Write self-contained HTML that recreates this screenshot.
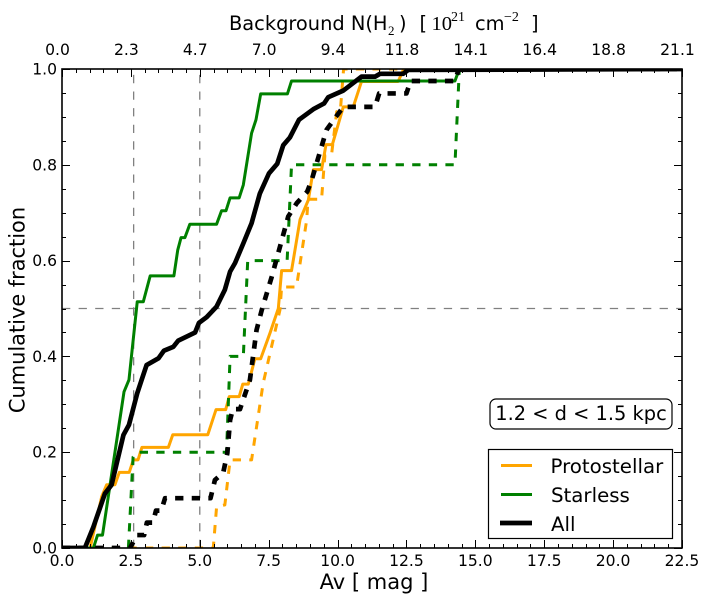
<!DOCTYPE html>
<html>
<head>
<meta charset="utf-8">
<title>Cumulative fraction chart</title>
<style>
html,body{margin:0;padding:0;background:#fff;width:710px;height:603px;overflow:hidden}
svg{display:block;font-family:"DejaVu Sans","Liberation Sans",sans-serif;fill:#000}
</style>
</head>
<body>
<svg id="chart" width="710" height="603" viewBox="0 0 710 603" xmlns="http://www.w3.org/2000/svg">
  <defs><clipPath id="plot-clip"><rect x="62" y="69" width="620" height="479"></rect></clipPath></defs>
  <rect x="62" y="69" width="620" height="479" fill="#fff"></rect>
  <g id="reference-lines" clip-path="url(#plot-clip)"></g>
  <g id="series-layer" clip-path="url(#plot-clip)"></g>
  <g id="tick-layer"></g>
  <rect x="62" y="69" width="620" height="479" fill="none" stroke="#000" stroke-width="1.6"></rect>
  <g id="label-layer" font-size="15.6"></g>
  <text x="374" y="589" font-size="21" text-anchor="middle">Av [ mag ]</text>
  <text transform="translate(24.5,310) rotate(-90)" font-size="20.9" text-anchor="middle">Cumulative fraction</text>
  <text y="30" font-size="19.4"><tspan x="229">Background N(H</tspan><tspan x="388" y="35" font-size="13" font-family="'Liberation Serif',serif">2</tspan><tspan x="399" y="30">)</tspan><tspan x="419.5" y="30">[</tspan><tspan x="431.5" y="30" font-size="20.5" font-family="'Liberation Serif',serif">10</tspan><tspan x="451" y="21" font-size="14" font-family="'Liberation Serif',serif">21</tspan><tspan x="475" y="30">cm</tspan><tspan x="504" y="21" font-size="14" font-family="'Liberation Serif',serif">−2</tspan><tspan x="531" y="30">]</tspan></text>
  <g>
    <rect x="490" y="399" width="182" height="30" rx="6" ry="6" fill="#fff" stroke="#000" stroke-width="1.2"></rect>
    <text x="581" y="420" font-size="19.4" text-anchor="middle">1.2 &lt; d &lt; 1.5 kpc</text>
  </g>
  <g>
    <rect x="488.5" y="449.5" width="184" height="89" fill="#fff" stroke="#000" stroke-width="1.2"></rect>
    <line x1="501" x2="532" y1="465.5" y2="465.5" stroke="#ffa500" stroke-width="3"></line>
    <text x="550.5" y="473" font-size="19.8">Protostellar</text>
    <line x1="501" x2="532" y1="494.5" y2="494.5" stroke="#008000" stroke-width="3"></line>
    <text x="551" y="502" font-size="19.8">Starless</text>
    <line x1="500" x2="532" y1="523" y2="523" stroke="#000" stroke-width="4.7"></line>
    <text x="551" y="531" font-size="19.8">All</text>
  </g>
</svg>
<script>
const avTicks = [0, 2.5, 5, 7.5, 10, 12.5, 15, 17.5, 20, 22.5];
const avTickLabels = ['0.0', '2.5', '5.0', '7.5', '10.0', '12.5', '15.0', '17.5', '20.0', '22.5'];
const nh2TickLabels = ['0.0', '2.3', '4.7', '7.0', '9.4', '11.8', '14.1', '16.4', '18.8', '21.1'];
const fracTicks = [0, 0.2, 0.4, 0.6, 0.8, 1];
const fracTickLabels = ['0.0', '0.2', '0.4', '0.6', '0.8', '1.0'];
const refAv = [2.6, 5];
const refFrac = [0.5];

const protoSolidAv = [0,1.02,1.44,1.62,1.92,2.08,2.44,2.59,2.76,2.9,3.86,4.02,5.29,5.59,5.94,6.07,6.43,6.56,6.76,7.0,7.21,7.55,7.85,7.97,8.33,8.64,8.94,9.12,9.42,9.58,9.81,10.21,10.57,10.87,12.2,12.4,22.5];
const protoSolidFrac = [0,0,0.107,0.132,0.132,0.158,0.158,0.184,0.184,0.21,0.21,0.2365,0.2365,0.289,0.289,0.316,0.316,0.342,0.342,0.395,0.395,0.449,0.5,0.579,0.579,0.686,0.7265,0.79,0.79,0.842,0.842,0.921,0.921,0.974,0.974,1,1];
const protoDashAv = [0,5.49,5.61,5.91,6.1,6.88,7.3,7.91,7.97,8.51,8.88,8.93,9.42,9.54,9.78,9.97,10.1,10.2,10.22,22.5];
const protoDashFrac = [0,0,0.086,0.09,0.184,0.184,0.344,0.497,0.545,0.545,0.685,0.728,0.728,0.82,0.82,0.911,0.911,0.987,1,1];

const starSolidAv = [0,1.14,1.29,1.47,2.25,2.43,2.73,2.95,3.2,4.06,4.2,4.32,4.46,4.64,5.61,5.79,5.95,6.1,6.43,6.58,6.88,7.04,7.21,8.18,8.33,14.26,14.42,22.5];
const starSolidFrac = [0,0,0.027,0.027,0.326,0.351,0.514,0.514,0.568,0.568,0.622,0.648,0.648,0.676,0.676,0.704,0.704,0.731,0.731,0.758,0.866,0.894,0.948,0.948,0.975,0.975,1,1];
const starDashAv = [0,2.41,2.58,2.77,5.97,6.1,6.58,6.74,8.17,8.33,14.26,14.42,22.5];
const starDashFrac = [0,0,0.19,0.2,0.2,0.4,0.4,0.6,0.6,0.8,0.8,1,1];

const allSolidAv = [0,0.83,1.14,1.56,1.8,2.23,2.43,2.73,2.89,3.07,3.5,3.7,4.04,4.22,4.83,4.97,5.25,5.61,5.91,6.1,6.28,6.58,6.88,7.18,7.51,7.81,8.03,8.27,8.6,9.12,9.51,9.66,10.21,10.87,11.36,11.54,12.38,12.56,22.5];
const allSolidFrac = [0,0,0.044,0.114,0.132,0.236,0.257,0.323,0.351,0.382,0.396,0.412,0.42,0.433,0.45,0.47,0.482,0.504,0.539,0.577,0.595,0.636,0.678,0.74,0.782,0.802,0.841,0.857,0.894,0.916,0.928,0.941,0.955,0.984,0.984,0.99,0.99,0.998,1];
const allDashAv = [0,2.47,2.72,2.98,3.08,3.3,3.41,3.6,3.74,5.39,5.55,5.85,6.0,6.1,6.2,6.46,6.82,7.06,7.25,7.61,7.91,8.21,8.52,8.9,9.06,9.6,9.9,10.21,11.36,11.51,12.5,12.65,14.26,14.4,22.5];
const allDashFrac = [0,0,0.027,0.027,0.053,0.053,0.078,0.078,0.104,0.104,0.142,0.157,0.198,0.267,0.29,0.29,0.351,0.455,0.497,0.566,0.629,0.692,0.72,0.744,0.768,0.873,0.897,0.921,0.921,0.949,0.949,0.975,0.975,1,1];

const plotLeft = 62, plotRight = 682, plotTop = 69, plotBottom = 548;
const avMax = 22.5;
const topLabelShift = -4.5;
function xPos(av) { return plotLeft + (av / avMax) * (plotRight - plotLeft); }
function yPos(f) { return plotBottom - f * (plotBottom - plotTop); }

const NS = 'http://www.w3.org/2000/svg';
const tickLayer = document.getElementById('tick-layer');
const labelLayer = document.getElementById('label-layer');
const refLayer = document.getElementById('reference-lines');
const seriesLayer = document.getElementById('series-layer');

function addTick(x1, y1, x2, y2) {
  const el = document.createElementNS(NS, 'line');
  
  
  el.setAttribute('x1', x1);
  el.setAttribute('y1', y1);
  el.setAttribute('x2', x2);
  el.setAttribute('y2', y2);
  el.setAttribute('stroke', '#000');
  el.setAttribute('stroke-width', '1');
  tickLayer.appendChild(el);
}
function addLabel(x, y, str, anchor) {
  const el = document.createElementNS(NS, 'text');
  
  
  el.setAttribute('x', x);
  el.setAttribute('y', y);
  el.setAttribute('text-anchor', anchor);
  el.textContent = str;
  labelLayer.appendChild(el);
}

const avStep = avTicks[1] - avTicks[0];
avTicks.forEach(function (t, i) {
  const x = Math.round(xPos(t)) + 0.5;
  addTick(x, plotBottom, x, plotBottom - 8);
  addTick(x, plotTop, x, plotTop + 8);
  addLabel(xPos(t), 566, avTickLabels[i], 'middle');
  addLabel(xPos(t) + topLabelShift, 55, nh2TickLabels[i], 'middle');
  if (i < avTicks.length - 1) {
    for (let k = 1; k < 5; k++) {
      const mx = Math.round(xPos(t + k * avStep / 5)) + 0.5;
      addTick(mx, plotBottom, mx, plotBottom - 4);
      addTick(mx, plotTop, mx, plotTop + 4);
    }
  }
});
const fracStep = fracTicks[1] - fracTicks[0];
fracTicks.forEach(function (t, i) {
  const y = Math.round(yPos(t)) + 0.5;
  addTick(plotLeft, y, plotLeft + 8, y);
  addTick(plotRight, y, plotRight - 8, y);
  addLabel(57, yPos(t) + 5.5, fracTickLabels[i], 'end');
  if (i < fracTicks.length - 1) {
    for (let k = 1; k < 4; k++) {
      const my = Math.round(yPos(t + k * fracStep / 4)) + 0.5;
      addTick(plotLeft, my, plotLeft + 4, my);
      addTick(plotRight, my, plotRight - 4, my);
    }
  }
});

refAv.forEach(function (a) {
  const el = document.createElementNS(NS, 'line');
  
  
  el.setAttribute('x1', xPos(a));
  el.setAttribute('x2', xPos(a));
  el.setAttribute('y1', plotBottom);
  el.setAttribute('y2', plotTop);
  el.setAttribute('stroke', '#808080');
  el.setAttribute('stroke-width', '1.3');
  el.setAttribute('stroke-dasharray', '8.3 8.3');
  refLayer.appendChild(el);
});
refFrac.forEach(function (f) {
  const el = document.createElementNS(NS, 'line');
  
  
  el.setAttribute('x1', plotLeft);
  el.setAttribute('x2', plotRight);
  el.setAttribute('y1', yPos(f));
  el.setAttribute('y2', yPos(f));
  el.setAttribute('stroke', '#808080');
  el.setAttribute('stroke-width', '1.3');
  el.setAttribute('stroke-dasharray', '8.3 8.3');
  refLayer.appendChild(el);
});

function pointsOf(xs, ys) {
  return xs.map(function (v, i) { return xPos(v).toFixed(2) + ',' + yPos(ys[i]).toFixed(2); }).join(' ');
}
function drawSeries(name, xs, ys, color, width, dash) {
  const el = document.createElementNS(NS, 'polyline');
  
  
  el.setAttribute('points', pointsOf(xs, ys));
  el.setAttribute('fill', 'none');
  el.setAttribute('stroke', color);
  el.setAttribute('stroke-width', width);
  el.setAttribute('stroke-linejoin', 'round');
  if (dash) el.setAttribute('stroke-dasharray', dash);
  seriesLayer.appendChild(el);
}
drawSeries('series-protostellar-dashed', protoDashAv, protoDashFrac, '#ffa500', 3, '8.3 8.3');
drawSeries('series-protostellar', protoSolidAv, protoSolidFrac, '#ffa500', 3, '');
drawSeries('series-starless-dashed', starDashAv, starDashFrac, '#008000', 3, '8.3 8.3');
drawSeries('series-starless', starSolidAv, starSolidFrac, '#008000', 3, '');
drawSeries('series-all-dashed', allDashAv, allDashFrac, '#000', 4.7, '8.3 8.3');
drawSeries('series-all', allSolidAv, allSolidFrac, '#000', 4.7, '');
</script>
</body>
</html>
